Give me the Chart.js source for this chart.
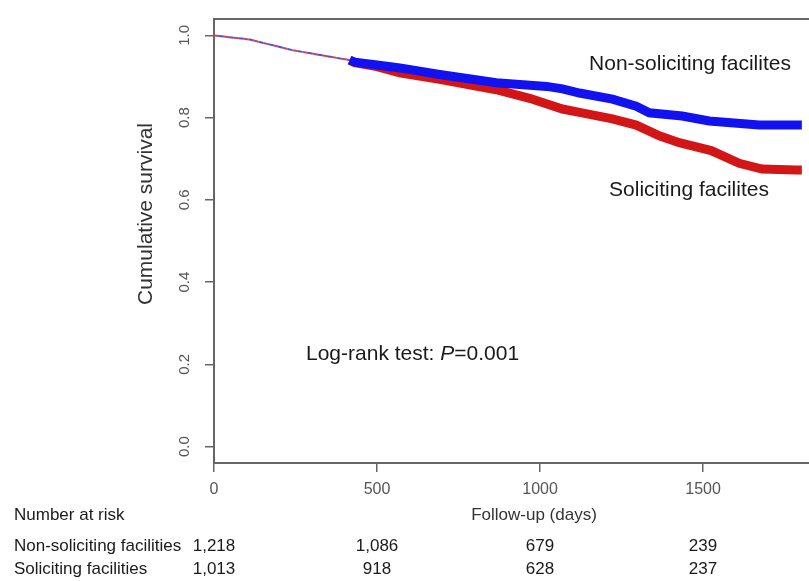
<!DOCTYPE html>
<html><head><meta charset="utf-8">
<script src="https://cdn.jsdelivr.net/npm/chart.js@4"></script>
<style>html,body{margin:0;padding:0;background:#fff}#wrap{width:809px;height:581px;position:relative}</style>
</head><body><div id="wrap"><canvas id="c" width="809" height="581"></canvas></div>
<script>
// ---- data ----
const nonSolDays = [0, 110, 242, 416, 432, 500, 570, 692, 866, 1020, 1069, 1121, 1222, 1295, 1335, 1436, 1519, 1672, 1803];
const nonSolSurv = [1.0, 0.99, 0.964, 0.940, 0.935, 0.928, 0.921, 0.905, 0.885, 0.876, 0.870, 0.860, 0.845, 0.828, 0.812, 0.804, 0.792, 0.782, 0.782];
const solDays = [0, 110, 242, 416, 432, 500, 570, 692, 866, 968, 1069, 1121, 1222, 1295, 1366, 1427, 1525, 1611, 1681, 1785, 1803];
const solSurv = [1.0, 0.99, 0.964, 0.940, 0.934, 0.924, 0.909, 0.893, 0.868, 0.847, 0.821, 0.813, 0.797, 0.782, 0.756, 0.739, 0.720, 0.689, 0.675, 0.673, 0.673];
const xTicks = [0, 500, 1000, 1500];
const yTicks = [0, 0.2, 0.4, 0.6, 0.8, 1.0];
const riskDays = [0, 500, 1000, 1500];
const riskNonSol = ['1,218', '1,086', '679', '239'];
const riskSol = ['1,013', '918', '628', '237'];
const groupNames = ['Non-soliciting facilities', 'Soliciting facilities'];
const curveLabels = ['Non-soliciting facilites', 'Soliciting facilites'];
const bandStartDay = 416;

// ---- build ----
const FONT = "'Liberation Sans', Arial, sans-serif";
const BLUE = '#1212f0', RED = '#d41515', AX = '#666666';
function pts(d, s, f) { return d.map((x, i) => ({x, y: s[i]})).filter(p => f(p.x)); }
const early = x => x <= 432, late = x => x >= bandStartDay;

const textPlugin = {
  id: 'texts',
  afterDraw(chart) {
    const ctx = chart.ctx, xs = chart.scales.x;
    ctx.save();
    ctx.fillStyle = '#1a1a1a';
    ctx.textBaseline = 'middle';
    ctx.font = '21px ' + FONT;
    ctx.textAlign = 'center';
    ctx.fillText(curveLabels[0], 690, 64);
    ctx.fillText(curveLabels[1], 689, 190);
    ctx.textAlign = 'left';
    const a = 'Log-rank test: ', b = 'P', c = '=0.001';
    let x0 = 306;
    ctx.fillText(a, x0, 354); x0 += ctx.measureText(a).width;
    ctx.font = 'italic 21px ' + FONT;
    ctx.fillText(b, x0, 354); x0 += ctx.measureText(b).width;
    ctx.font = '21px ' + FONT;
    ctx.fillText(c, x0, 354);
    // axis titles
    ctx.fillStyle = '#333';
    ctx.font = '17px ' + FONT;
    ctx.textAlign = 'center';
    ctx.fillText('Follow-up (days)', 534, 515);
    ctx.save();
    ctx.translate(146, 214);
    ctx.rotate(-Math.PI / 2);
    ctx.font = '21px ' + FONT;
    ctx.fillText('Cumulative survival', 0, 0);
    ctx.restore();
    // number at risk table
    ctx.fillStyle = '#1a1a1a';
    ctx.font = '17px ' + FONT;
    ctx.textAlign = 'left';
    ctx.fillText('Number at risk', 14, 515);
    ctx.fillText(groupNames[0], 14, 546);
    ctx.fillText(groupNames[1], 14, 569);
    ctx.textAlign = 'center';
    riskDays.forEach((d, i) => {
      const px = xs.getPixelForValue(d);
      ctx.fillText(riskNonSol[i], px, 546);
      ctx.fillText(riskSol[i], px, 569);
    });
    ctx.restore();
  }
};

new Chart(document.getElementById('c'), {
  type: 'line',
  data: {
    datasets: [
      { data: pts(nonSolDays, nonSolSurv, late), borderColor: BLUE, borderWidth: 9, borderCapStyle: 'butt', order: 0 },
      { data: pts(solDays, solSurv, late), borderColor: RED, borderWidth: 9, borderCapStyle: 'butt', order: 1 },
      { data: pts(nonSolDays, nonSolSurv, early), borderColor: '#5050d8', borderWidth: 2, borderDash: [5, 5], borderDashOffset: 5, order: 2 },
      { data: pts(solDays, solSurv, early), borderColor: '#d04060', borderWidth: 2, borderDash: [5, 5], order: 3 }
    ]
  },
  options: {
    responsive: false,
    animation: false,
    layout: { padding: { top: 12, left: 0, right: 0, bottom: 0 } },
    elements: { point: { radius: 0 }, line: { tension: 0 } },
    plugins: { legend: { display: false }, tooltip: { enabled: false } },
    scales: {
      x: {
        type: 'linear', position: 'bottom', min: 0, max: 1825,
        afterBuildTicks: s => { s.ticks = xTicks.map(v => ({value: v})); },
        afterFit: s => { s.height = 118; },
        ticks: { callback: v => String(v), color: '#555', font: { family: FONT, size: 16 }, padding: 8, maxRotation: 0 },
        grid: { drawOnChartArea: false, drawTicks: true, tickLength: 9, color: AX, lineWidth: 1.5 },
        border: { display: true, color: AX, width: 2 }
      },
      x2: {
        type: 'linear', position: 'top', min: 0, max: 1825, display: true,
        afterFit: s => { s.height = 0; },
        ticks: { display: false },
        grid: { drawOnChartArea: false, drawTicks: false },
        border: { display: true, color: AX, width: 2 }
      },
      y: {
        type: 'linear', position: 'left', min: -0.04, max: 1.04,
        afterBuildTicks: s => { s.ticks = yTicks.map(v => ({value: v})); },
        afterFit: s => { s.width = 214; },
        ticks: { callback: v => v.toFixed(1), color: '#555', font: { family: FONT, size: 15 }, padding: 10, minRotation: 90, maxRotation: 90, crossAlign: 'center' },
        grid: { drawOnChartArea: false, drawTicks: true, tickLength: 9, color: AX, lineWidth: 1.5 },
        border: { display: true, color: AX, width: 2 }
      }
    }
  },
  plugins: [textPlugin]
});
</script></body></html>
